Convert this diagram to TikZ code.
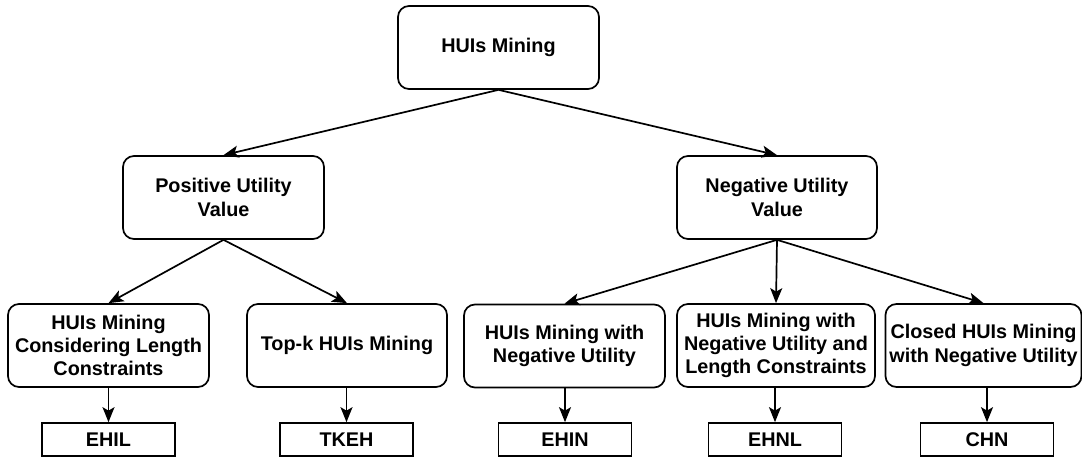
\documentclass[tikz,border=0pt]{standalone}
\usepackage{fontspec}
\setmainfont{Liberation Sans}
\usetikzlibrary{arrows.meta}
\begin{document}
\begin{tikzpicture}[x=1pt,y=-1pt,
  every node/.style={font=\fontsize{19.8}{23.4}\selectfont\bfseries, align=center, inner sep=0pt},
  rbox/.style={draw, line width=1.7pt, rounded corners=11pt, minimum height=83pt},
  leafbox/.style={draw, line width=1.7pt, minimum width=133pt, minimum height=33pt},
  arr/.style={line width=1.7pt, -{Stealth[length=15pt,width=12pt,inset=3.5pt]}}]
\useasboundingbox (0,0) rectangle (1082,457);
\node[rbox, minimum width=201pt] (top) at (498.5,47.5) {HUIs Mining};
\node[rbox, minimum width=201pt] (pos) at (223.5,197.5) {Positive Utility\\Value};
\node[rbox, minimum width=200pt] (neg) at (777,197.5) {Negative Utility\\Value};
\node[rbox, minimum width=201pt] (b1) at (108.5,345.5) {HUIs Mining\\Considering Length\\Constraints};
\node[rbox, minimum width=200pt] (b2) at (347,345.5) {Top-k HUIs Mining};
\node[rbox, minimum width=201pt] (b3) at (564.5,346) {HUIs Mining with\\Negative Utility};
\node[rbox, minimum width=198pt] (b4) at (776,345.5) {HUIs Mining with\\Negative Utility and\\Length Constraints};
\node[rbox, minimum width=196pt] (b5) at (983.5,345.5) {Closed HUIs Mining\\with Negative Utility};
\node[leafbox] (l1) at (108.5,439.5) {EHIL};
\node[leafbox] (l2) at (346.5,439.5) {TKEH};
\node[leafbox] (l3) at (565,439.5) {EHIN};
\node[leafbox] (l4) at (775,439.5) {EHNL};
\node[leafbox] (l5) at (987,439.5) {CHN};
\draw[arr] (top.south) -- (pos.north);
\draw[arr] (top.south) -- (neg.north);
\draw[arr] (pos.south) -- (b1.north);
\draw[arr] (pos.south) -- (b2.north);
\draw[arr] (neg.south) -- (b3.north);
\draw[arr] (neg.south) -- (b4.north);
\draw[arr] (neg.south) -- (b5.north);
\draw[arr] (l1.north |- b1.south) -- (l1.north);
\draw[arr] (l2.north |- b2.south) -- (l2.north);
\draw[arr] (l3.north |- b3.south) -- (l3.north);
\draw[arr] (l4.north |- b4.south) -- (l4.north);
\draw[arr] (l5.north |- b5.south) -- (l5.north);
\end{tikzpicture}
\end{document}
